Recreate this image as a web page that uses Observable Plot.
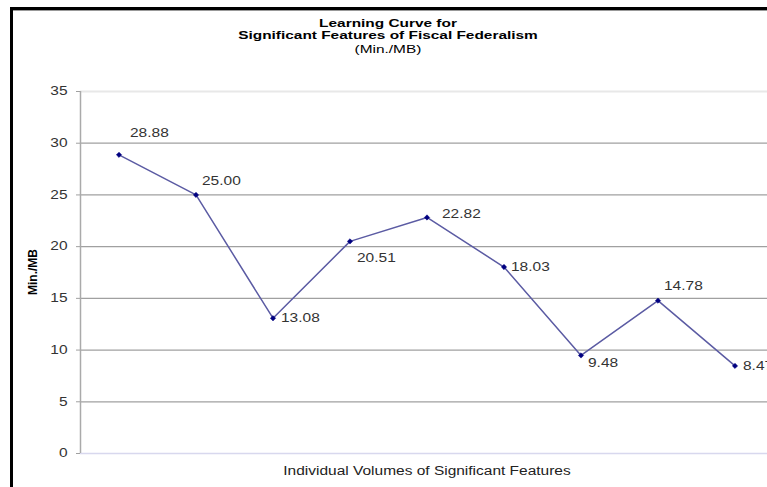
<!DOCTYPE html>
<html><head><meta charset="utf-8">
<script src="https://cdn.jsdelivr.net/npm/d3@7"></script>
<script src="https://cdn.jsdelivr.net/npm/@observablehq/plot@0.6"></script>
<style>
body{margin:0;background:#fff;}
#wrap{position:relative;width:767px;height:487px;overflow:hidden;font-family:"Liberation Sans",Arial,sans-serif;}
#wrap svg{position:absolute;left:0;top:0;}
.bl{position:absolute;left:10px;top:7px;width:3px;height:480px;background:#000;}
.bt{position:absolute;left:10px;top:7px;width:757px;height:3px;background:#000;}
.bt2{position:absolute;left:13px;top:10px;width:754px;height:1px;background:#999;}
.t{position:absolute;left:0;width:776px;text-align:center;font-size:11px;color:#000;transform:scaleX(1.4);transform-origin:388px 0;line-height:11px;white-space:nowrap;}
.yl{position:absolute;left:33px;top:272px;font-size:12px;font-weight:bold;color:#000;white-space:nowrap;transform:translate(-50%,-50%) rotate(-90deg);line-height:12px;}
</style>
</head><body>
<div id="wrap">
</div>
<script>
const titleLines = ["Learning Curve for", "Significant Features of Fiscal Federalism", "(Min./MB)"];
const volumes = [1, 2, 3, 4, 5, 6, 7, 8, 9];
const minPerMB = [28.88, 25.00, 13.08, 20.51, 22.82, 18.03, 9.48, 14.78, 8.47];
const yTicks = [0, 5, 10, 15, 20, 25, 30, 35];
const xLabel = "Individual Volumes of Significant Features";
const yLabel = "Min./MB";

// label placement (style)
const labelDx = [11, 6, 8, 7, 15, 7, 7, 6, 8];
const labelDy = [-22, -14, 0, 17, -3, 0, 8, -14, 0];

const data = volumes.map((v, i) => ({v, m: minPerMB[i]}));

const plot = Plot.plot({
  width: 767, height: 487,
  marginTop: 91, marginBottom: 34, marginLeft: 80, marginRight: 0,
  style: {fontFamily: "'Liberation Sans', Arial, sans-serif", fontSize: "12px", background: "transparent"},
  x: {domain: [0.5, 9.5], range: [80, 773], axis: null},
  y: {domain: [0, 35], axis: null},
  marks: [
    Plot.ruleY(yTicks.filter(t => t > 0 && t < 35), {stroke: "#a0a0a0", strokeWidth: 1.2}),
    Plot.ruleY([35], {stroke: "#e8e8e8", strokeWidth: 2}),
    Plot.ruleY([0], {stroke: "#d8d8ee", strokeWidth: 1.5}),
    Plot.ruleX([0.5], {stroke: "#aaaaaa", strokeWidth: 1.5}),
    Plot.axisY({ticks: yTicks, tickSize: 4, tickPadding: 9, stroke: "#a0a0a0", fill: "#333", label: null, tickFormat: d => String(d)}),
    Plot.line(data, {x: "v", y: "m", stroke: "#5b5ba3", strokeWidth: 1.5}),
    Plot.dot(data, {x: "v", y: "m", symbol: "diamond2", r: 2.4, fill: "#000080", stroke: "#000080", strokeWidth: 0.5}),
    ...data.map((d, i) => Plot.text([d], {x: "v", y: "m", text: e => e.m.toFixed(2), textAnchor: "start", dx: labelDx[i], dy: labelDy[i], fill: "#333"})),
    Plot.text([xLabel], {frameAnchor: "bottom", dx: 3, dy: 21, fill: "#222"})
  ]
});

const wrap = document.getElementById("wrap");
wrap.appendChild(plot);
const tops = [18, 30, 44];
titleLines.forEach((s, i) => {
  const d = document.createElement("div");
  d.className = "t";
  d.style.top = tops[i] + "px";
  d.style.fontWeight = i < 2 ? "bold" : "normal";
  d.textContent = s;
  wrap.appendChild(d);
});
const yl = document.createElement("div");
yl.className = "yl";
yl.textContent = yLabel;
wrap.appendChild(yl);
["bl", "bt", "bt2"].forEach(c => { const d = document.createElement("div"); d.className = c; wrap.appendChild(d); });

plot.querySelectorAll("text").forEach(t => {
  if ((t.getAttribute("transform") || "").includes("rotate")) return;
  const L = t.getComputedTextLength();
  t.setAttribute("textLength", (L * 1.29).toFixed(2));
  t.setAttribute("lengthAdjust", "spacingAndGlyphs");
});
</script>
</body></html>
